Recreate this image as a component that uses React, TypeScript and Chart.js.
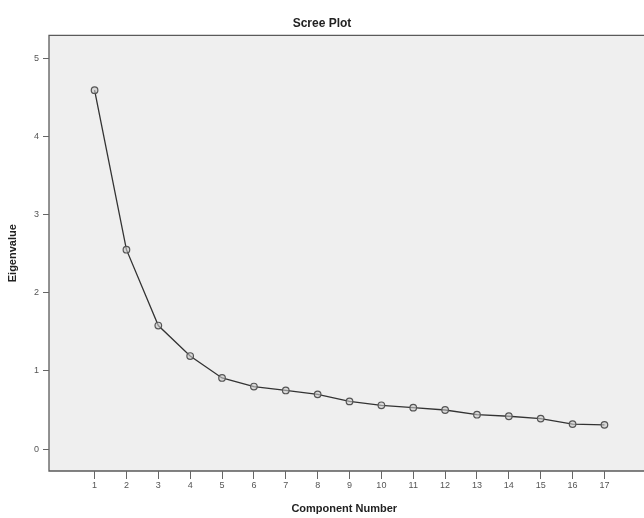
import React, { useEffect, useRef } from "react";
import { Chart, registerables } from "chart.js";

Chart.register(...registerables);

const components = [1, 2, 3, 4, 5, 6, 7, 8, 9, 10, 11, 12, 13, 14, 15, 16, 17];
const eigenvalues = [4.59, 2.55, 1.58, 1.19, 0.91, 0.8, 0.75, 0.7, 0.61, 0.56, 0.53, 0.5, 0.44, 0.42, 0.39, 0.32, 0.31];
const yTicks = [0, 1, 2, 3, 4, 5];

const FONT = "'Liberation Sans', Arial, sans-serif";

const plotFrame = {
  id: "plotFrame",
  beforeDraw(chart: any) {
    const { ctx, chartArea } = chart;
    const { left, top, bottom } = chartArea;
    const right = chart.width + 2;
    ctx.save();
    ctx.fillStyle = "#efefef";
    ctx.fillRect(left, top, right - left, bottom - top);
    ctx.strokeStyle = "#5a5a5a";
    ctx.lineWidth = 1.3;
    ctx.beginPath();
    ctx.moveTo(right, top);
    ctx.lineTo(left, top);
    ctx.lineTo(left, bottom);
    ctx.lineTo(right, bottom);
    ctx.stroke();
    ctx.restore();
  },
};

export default function App() {
  const ref = useRef<HTMLCanvasElement | null>(null);

  useEffect(() => {
    if (!ref.current) return;
    const chart = new Chart(ref.current, {
      type: "scatter",
      data: {
        datasets: [
          {
            data: components.map((c, i) => ({ x: c, y: eigenvalues[i] })),
            showLine: true,
            borderColor: "#333333",
            borderWidth: 1.3,
            pointRadius: 3.3,
            pointBorderWidth: 1.2,
            pointBorderColor: "#555555",
            pointBackgroundColor: "rgba(200,200,200,0.6)",
            pointHoverRadius: 3.3,
          },
        ],
      },
      options: {
        animation: false,
        responsive: false,
        maintainAspectRatio: false,
        layout: { padding: { top: 0, left: 0, right: 0, bottom: 0 } },
        plugins: {
          legend: { display: false },
          tooltip: { enabled: false },
          title: {
            display: true,
            text: "Scree Plot",
            color: "#222",
            font: { family: FONT, size: 12, weight: "bold" },
            padding: { top: 16, bottom: 5 },
          },
        },
        scales: {
          x: {
            type: "linear",
            min: -0.43,
            max: 18.1,
            afterBuildTicks: (scale: any) => {
              scale.ticks = components.map((v) => ({ value: v }));
            },
            afterFit: (scale: any) => {
              scale.height = 47;
            },
            grid: {
              display: true,
              drawOnChartArea: false,
              drawTicks: true,
              tickLength: 8,
              color: "#666",
            },
            border: { display: false },
            ticks: {
              color: "#555",
              font: { family: FONT, size: 9 },
              padding: 1,
              maxRotation: 0,
              autoSkip: false,
            },
            title: {
              display: true,
              text: "Component Number",
              color: "#222",
              font: { family: FONT, size: 11, weight: "bold" },
              padding: { top: 4, bottom: 2 },
            },
          },
          y: {
            type: "linear",
            min: -0.28,
            max: 5.29,
            afterBuildTicks: (scale: any) => {
              scale.ticks = yTicks.map((v) => ({ value: v }));
            },
            afterFit: (scale: any) => {
              scale.width = 49;
            },
            grid: {
              display: true,
              drawOnChartArea: false,
              drawTicks: true,
              tickLength: 6,
              color: "#666",
            },
            border: { display: false },
            ticks: {
              color: "#555",
              font: { family: FONT, size: 9 },
              padding: 4,
            },
            title: {
              display: true,
              text: "Eigenvalue",
              color: "#222",
              font: { family: FONT, size: 11, weight: "bold" },
              padding: { top: 6, bottom: 4 },
            },
          },
        },
      },
      plugins: [plotFrame],
    } as any);
    return () => chart.destroy();
  }, []);

  return (
    <div style={{ position: "fixed", left: 0, top: 0, width: 644, height: 518, background: "#fff" }}>
      <canvas ref={ref} width={644} height={518} style={{ width: 644, height: 518, display: "block" }} />
    </div>
  );
}
